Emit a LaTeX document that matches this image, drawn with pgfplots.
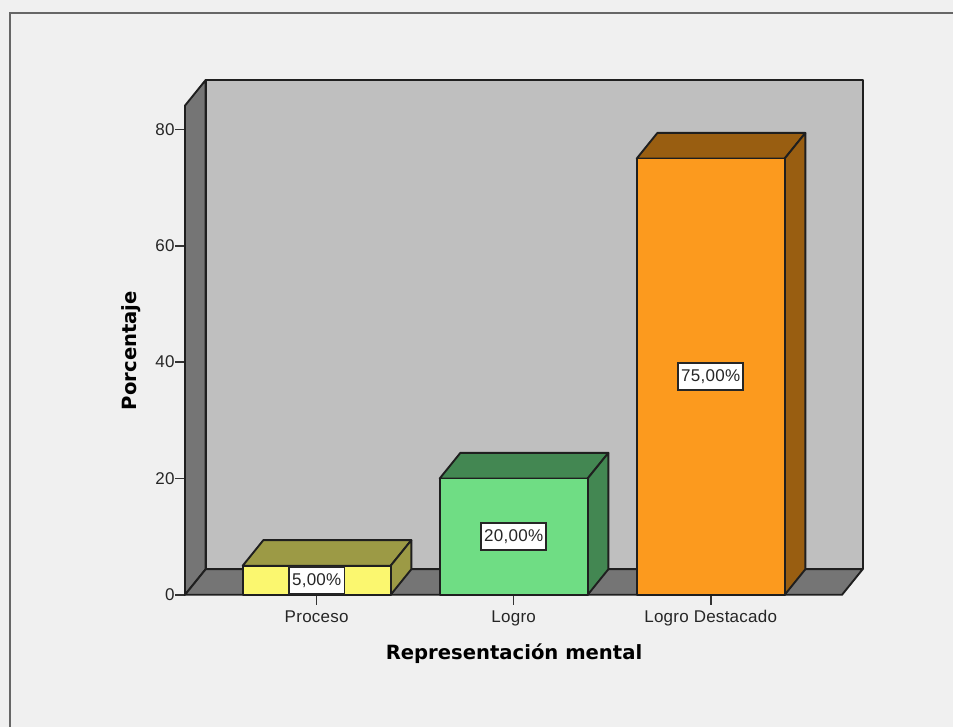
\documentclass[border=0pt]{standalone}
\usepackage{pgfplots}
\pgfplotsset{compat=1.18}
\usepackage{fontspec}
\setmainfont{DejaVu Sans}
\newfontfamily\spaced[LetterSpace=1.5]{Liberation Sans}
\definecolor{panel}{HTML}{F0F0F0}
\definecolor{wall}{HTML}{BFBFBF}
\definecolor{wallside}{HTML}{757575}
\definecolor{yellowfront}{HTML}{FBF76F}
\definecolor{yellowdark}{HTML}{9C9A45}
\definecolor{greenfront}{HTML}{6FDD84}
\definecolor{greendark}{HTML}{438752}
\definecolor{orangefront}{HTML}{FC9A1E}
\definecolor{orangedark}{HTML}{995E11}
\begin{document}
\begin{tikzpicture}[x=1pt,y=1pt]
  % page panel with its frame along the top and left
  \useasboundingbox (0,0) rectangle (953,727);
  \fill[panel] (0,0) rectangle (953,727);
  \draw[line width=1.8pt,black!60] (10,0) -- (10,714) -- (953,714);
  \begin{axis}[
    at={(185pt,132.2pt)}, anchor=south west,
    scale only axis, width=677.7pt, height=514.8pt,
    xmin=-0.6685, xmax=2.7716, ymin=0, ymax=88.5,
    clip=false,
    axis lines=left,
    axis line style={draw=none,-},
    tick align=outside, major tick length=10pt,
    tick style={line width=1.6pt,black!80},
    xtick={0,1,2}, xticklabels={Proceso,Logro,Logro Destacado},
    ytick={0,20,40,60,80},
    /pgf/number format/assume math mode=true,
    xticklabel style={font=\fontsize{17}{20}\selectfont\spaced,text=black!85,yshift=-2pt},
    yticklabel style={font=\fontsize{17}{20}\selectfont\spaced,text=black!85,xshift=3pt},
    xlabel={Representación mental},
    ylabel={Porcentaje},
    every axis x label/.style={at={(axis description cs:0.4855,-0.115)},anchor=center,font=\fontsize{19.6}{23}\selectfont\bfseries},
    every axis y label/.style={at={(axis description cs:-0.0800,0.4745)},anchor=center,rotate=90,font=\fontsize{19.6}{23}\selectfont\bfseries},
    wallface/.style={line width=1.9pt,draw=black!88,line join=round},
    face/.style={line width=1.9pt,draw=black!88,line join=round},
  ]
    % chart box: side wall, floor and back wall
    \addplot[wallface,fill=wall] coordinates {(-0.5635,4.4) (2.7716,4.4) (2.7716,88.5) (-0.5635,88.5)} -- cycle;
    \addplot[wallface,fill=wallside] coordinates {(-0.6685,0) (-0.5635,4.4) (-0.5635,88.5) (-0.6685,84.1)} -- cycle;
    \addplot[wallface,fill=wallside] coordinates {(-0.6685,0) (2.6666,0) (2.7716,4.4) (-0.5635,4.4)} -- cycle;

    % Proceso, 5 %
    \addplot[face,fill=yellowdark] coordinates {(-0.3756,5) (-0.2706,9.4) (0.4806,9.4) (0.3756,5)} -- cycle;
    \addplot[face,fill=yellowdark] coordinates {(0.3756,0) (0.4806,4.4) (0.4806,9.4) (0.3756,5)} -- cycle;
    \addplot[ybar,bar width=0.7512,bar shift=0pt,face,fill=yellowfront] coordinates {(0,5)};

    % Logro, 20 %
    \addplot[face,fill=greendark] coordinates {(0.6244,20) (0.7294,24.4) (1.4806,24.4) (1.3756,20)} -- cycle;
    \addplot[face,fill=greendark] coordinates {(1.3756,0) (1.4806,4.4) (1.4806,24.4) (1.3756,20)} -- cycle;
    \addplot[ybar,bar width=0.7512,bar shift=0pt,face,fill=greenfront] coordinates {(1,20)};

    % Logro Destacado, 75 %
    \addplot[face,fill=orangedark] coordinates {(1.6244,75) (1.7294,79.4) (2.4806,79.4) (2.3756,75)} -- cycle;
    \addplot[face,fill=orangedark] coordinates {(2.3756,0) (2.4806,4.4) (2.4806,79.4) (2.3756,75)} -- cycle;
    \addplot[ybar,bar width=0.7512,bar shift=0pt,face,fill=orangefront] coordinates {(2,75)};

    % value labels at mid-height of each bar
    \addplot[only marks,mark=none,point meta=explicit symbolic,
      nodes near coords,
      every node near coord/.style={anchor=center,fill=white,draw=black!85,line width=1.5pt,
        inner xsep=3pt,inner ysep=0pt,minimum height=27pt,
        font=\fontsize{17}{20}\selectfont\spaced,text=black!85}]
      coordinates {(0,2.5) [5,00\%] (1,10) [20,00\%] (2,37.5) [75,00\%]};
  \end{axis}
\end{tikzpicture}
\end{document}
